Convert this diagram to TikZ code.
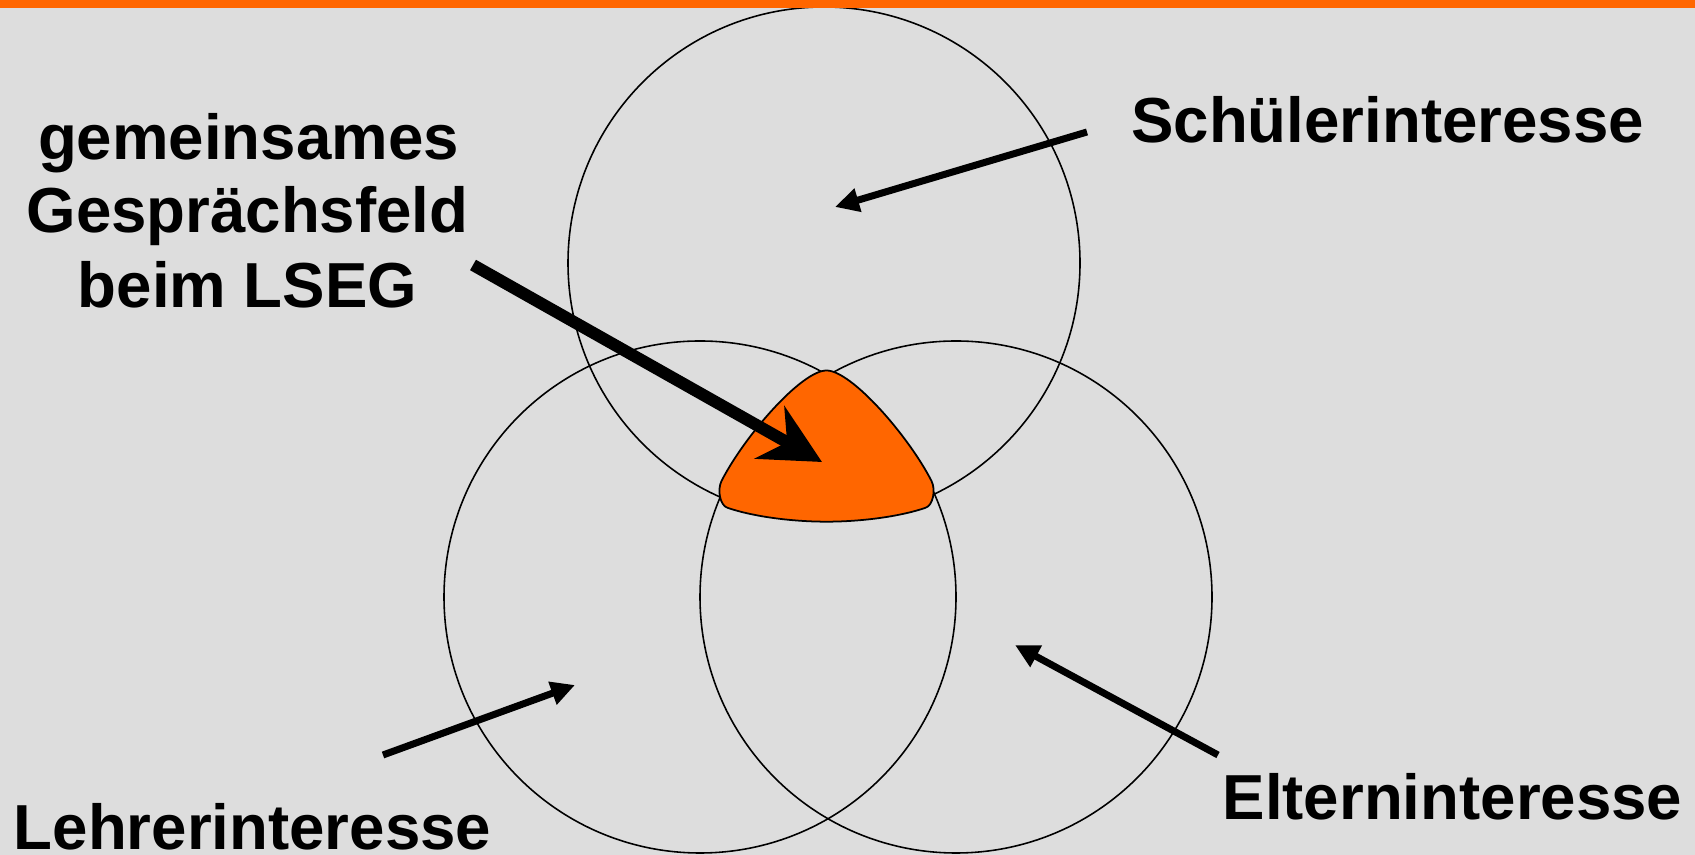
\documentclass[tikz,border=0pt]{standalone}
\usepackage{fontspec}
\setmainfont{Liberation Sans}
\usetikzlibrary{arrows.meta}
\definecolor{bg}{HTML}{DDDDDD}
\definecolor{orng}{HTML}{FF6600}
\begin{document}
\begin{tikzpicture}[
  ring/.style={circle, draw=black, line width=0.45pt, minimum size=5.12cm, inner sep=0pt},
  lbl/.style={font=\fontsize{18.1pt}{21.7pt}\selectfont\bfseries, inner sep=0pt, anchor=base},
  thinarrow/.style={line width=0.07cm, -{Triangle[length=0.24cm, width=0.23cm]}},
  bigarrow/.style={line width=0.12cm, -{Stealth[length=0.6cm, width=0.6cm, inset=0.2cm]}}
]
\useasboundingbox (0,0) rectangle (16.95,8.55);
\fill[bg] (0,0) rectangle (16.95,8.55);

% circles
\node[ring] (schueler) at (8.24,5.92) {};
\node[ring] (lehrer) at (7.00,2.58) {};
\node[ring] (eltern) at (9.56,2.58) {};

% top bar
\fill[orng] (0,8.47) rectangle (16.95,8.55);

% common field
\draw[fill=orng, line width=0.5pt]
  (8.265,4.845) .. controls (8.515,4.845) and (9.088,4.186) .. (9.315,3.74)
  .. controls (9.36,3.65) and (9.33,3.49) .. (9.25,3.47)
  .. controls (8.95,3.37) and (8.55,3.333) .. (8.265,3.333)
  .. controls (7.98,3.333) and (7.58,3.37) .. (7.28,3.47)
  .. controls (7.20,3.49) and (7.17,3.65) .. (7.215,3.74)
  .. controls (7.442,4.186) and (8.015,4.845) .. (8.265,4.845) -- cycle;

% labels
\node[lbl] (g1) at (2.485,6.957) {gemeinsames};
\node[lbl] (g2) at (2.475,6.22) {Gesprächsfeld};
\node[lbl] (g3) at (2.475,5.47) {beim LSEG};
\node[lbl] (ls) at (13.876,7.12) {Schülerinteresse};
\node[lbl] (ll) at (2.525,0.05) {Lehrerinteresse};
\node[lbl] (le) at (14.525,0.35) {Elterninteresse};

% arrow ends
\coordinate (sTail) at (10.87,7.23);
\coordinate (sTip) at (8.35,6.48);
\coordinate (gTail) at (4.73,5.90);
\coordinate (gTip) at (8.22,3.93);
\coordinate (lTail) at (3.83,1.00);
\coordinate (lTip) at (5.75,1.70);
\coordinate (eTail) at (12.18,1.00);
\coordinate (eTip) at (10.15,2.10);

\draw[thinarrow] (sTail) -- (sTip);
\draw[bigarrow] (gTail) -- (gTip);
\draw[thinarrow] (lTail) -- (lTip);
\draw[thinarrow] (eTail) -- (eTip);
\end{tikzpicture}
\end{document}
